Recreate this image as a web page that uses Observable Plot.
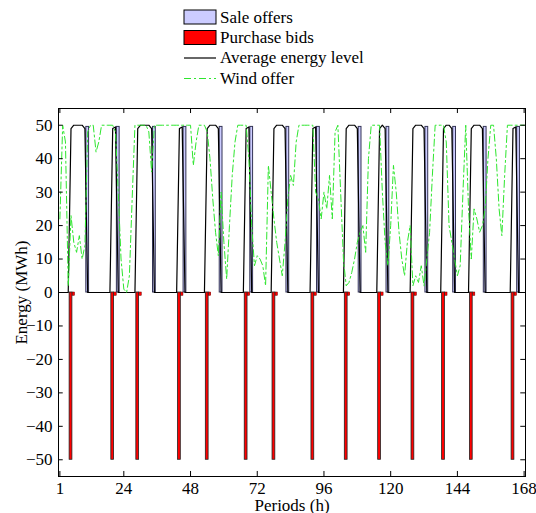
<!DOCTYPE html>
<html><head><meta charset="utf-8">
<script src="https://cdn.jsdelivr.net/npm/d3@7"></script>
<script src="https://cdn.jsdelivr.net/npm/@observablehq/plot@0.6"></script>
<style>
body{margin:0;background:#fff;font-family:'Liberation Serif','Times New Roman',serif;}
#legend{display:block;}
svg text{font-family:'Liberation Serif','Times New Roman',serif !important;}
</style></head><body>
<svg id="legend" width="536" height="95"></svg>
<div id="chart"></div>
<script>
// ---- data ----
const periods = d3.range(1, 169);
const xTicks = [1, 24, 48, 72, 96, 120, 144, 168];
const yTicks = [-50, -40, -30, -20, -10, 0, 10, 20, 30, 40, 50];

const purchaseHours = [5, 20, 29, 44, 54, 68, 78, 92, 104, 116, 128, 139, 149, 164];
const purchaseValues = [-50, -50, -50, -50, -50, -50, -50, -50, -50, -50, -50, -50, -50, -50];
const purchaseMinorHours = [6, 21, 30, 45, 55, 69, 79, 93, 105, 117, 129, 140, 150, 165];
const purchaseMinorValues = [-1, -1, -1, -1, -1, -1, -1, -1, -1, -1, -1, -1, -1, -1];

const saleHours = [11, 22, 35, 46, 59, 70, 83, 94, 109, 119, 133, 143, 154, 166];
const saleValues = [49.5, 49.5, 49.5, 49.5, 49.5, 49.5, 49.5, 49.5, 49.5, 49.5, 49.5, 49.5, 49.5, 49.5];

const energy = [
  0,0,0,0,                 // 1-4
  49,50,50,50,50,49,0,     // 5-11
  0,0,0,0,0,0,0,0,         // 12-19
  49,49.5,0,               // 20-22
  0,0,0,0,0,0,             // 23-28
  49,50,50,50,50,49,0,     // 29-35
  0,0,0,0,0,0,0,0,         // 36-43
  49,49.5,0,               // 44-46
  0,0,0,0,0,0,0,           // 47-53
  49,50,50,50,49,0,        // 54-59
  0,0,0,0,0,0,0,0,         // 60-67
  49,49.5,0,               // 68-70
  0,0,0,0,0,0,0,           // 71-77
  49,50,50,50,49,0,        // 78-83
  0,0,0,0,0,0,0,0,         // 84-91
  49,49.5,0,               // 92-94
  0,0,0,0,0,0,0,0,0,       // 95-103
  49,50,50,50,49,0,        // 104-109
  0,0,0,0,0,0,             // 110-115
  49,50,49,0,              // 116-119
  0,0,0,0,0,0,0,0,         // 120-127
  49,50,50,50,49,0,        // 128-133
  0,0,0,0,0,               // 134-138
  49,50,50,49,0,           // 139-143
  0,0,0,0,0,               // 144-148
  49,50,50,50,49,0,        // 149-154
  0,0,0,0,0,0,0,0,0,       // 155-163
  49,49.5,0,               // 164-166
  0,0                      // 167-168
];

const wind = [
  22,50,45,2,23,15,12,17,10,14,48,50,
  50,42,45,50,50,50,50,50,48,30,10,1,
  0,5,28,50,50,50,50,50,48,36,50,50,
  50,50,50,50,50,50,50,50,50,50,50,50,
  38,45,50,50,50,48,40,28,18,11,30,15,
  4,20,35,45,50,50,50,50,40,20,8,11,
  10,8,2,38,30,22,15,10,5,15,28,35,
  32,45,50,50,50,50,50,50,30,28,22,30,
  25,35,22,48,50,30,10,2,3,6,10,15,
  18,20,12,40,50,50,50,50,30,15,8,20,
  38,30,18,10,5,15,20,2,5,3,8,2,
  10,18,35,50,50,50,50,45,20,15,10,5,
  8,30,50,25,10,25,22,18,20,25,40,50,
  50,40,25,17,35,50,50,50,50,50,50,50
];

const legendItems = ["Sale offers", "Purchase bids", "Average energy level", "Wind offer"];

// ---- styles ----
const serif = "'Liberation Serif', 'Times New Roman', serif";
const saleFill = "#ccccff";
const purchaseFill = "#ff0000";
const windColor = "#2ee62e";
const windDash = "7,3,2,3";

// ---- legend ----
const lg = d3.select("#legend");
const lx = 184, lw = 32;
lg.append("rect").attr("x", lx).attr("y", 10).attr("width", lw).attr("height", 14)
  .attr("fill", saleFill).attr("stroke", "black").attr("stroke-width", 1);
lg.append("rect").attr("x", lx).attr("y", 30.5).attr("width", lw).attr("height", 14)
  .attr("fill", purchaseFill).attr("stroke", "black").attr("stroke-width", 1);
lg.append("line").attr("x1", lx).attr("x2", lx + lw).attr("y1", 58).attr("y2", 58)
  .attr("stroke", "black").attr("stroke-width", 1.2);
lg.append("line").attr("x1", lx).attr("x2", lx + lw).attr("y1", 78.5).attr("y2", 78.5)
  .attr("stroke", windColor).attr("stroke-width", 1).attr("stroke-dasharray", windDash);
const baselines = [22.5, 43, 63, 83.5];
legendItems.forEach((t, i) => {
  lg.append("text").attr("x", 220).attr("y", baselines[i])
    .style("font-family", serif)
    .attr("font-size", 17).attr("fill", "black").text(t);
});

// ---- chart ----
const series = periods.map((p, i) => ({p, e: energy[i], w: wind[i]}));
const sales = saleHours.map((h, i) => ({h, v: saleValues[i]}));
const purchases = purchaseHours.map((h, i) => ({h, v: purchaseValues[i]}));
const minor = purchaseMinorHours.map((h, i) => ({h, v: purchaseMinorValues[i]}));

const chart = Plot.plot({
  width: 536,
  height: 418,
  marginLeft: 58,
  marginRight: 11,
  marginTop: 13,
  marginBottom: 37,
  style: {fontFamily: serif, fontSize: "17px", color: "black", background: "white"},
  x: {domain: [0.5, 168.5]},
  y: {domain: [-55, 55]},
  marks: [
    Plot.rect(minor, {x1: d => d.h - 0.45, x2: d => d.h + 0.45, y1: 0, y2: d => d.v, fill: purchaseFill, stroke: "#600", strokeWidth: 0.5}),
    Plot.rect(purchases, {x1: d => d.h - 0.5, x2: d => d.h + 0.5, y1: 0, y2: d => d.v, fill: purchaseFill, stroke: "#222", strokeWidth: 0.8}),
    Plot.rect(sales, {x1: d => d.h - 0.5, x2: d => d.h + 0.5, y1: 0, y2: d => d.v, fill: saleFill, stroke: "#333355", strokeWidth: 1}),
    Plot.line(series, {x: "p", y: "e", stroke: "black", strokeWidth: 1.2}),
    Plot.line(series, {x: "p", y: "w", stroke: windColor, strokeWidth: 1, strokeDasharray: windDash}),
    Plot.ruleX(xTicks, {x: d => d, y1: -55, y2: -53.5, stroke: "black"}),
    Plot.ruleX(xTicks, {x: d => d, y1: 55, y2: 53.5, stroke: "black"}),
    Plot.ruleY(yTicks, {y: d => d, x1: 0.5, x2: 2.2, stroke: "black"}),
    Plot.ruleY(yTicks, {y: d => d, x1: 168.5, x2: 166.8, stroke: "black"}),
    Plot.frame({stroke: "black", strokeWidth: 1}),
    Plot.axisX(xTicks, {anchor: "bottom", tickSize: 0, tickPadding: 5, label: "Periods (h)", labelAnchor: "center", labelArrow: "none", labelOffset: 34, fontSize: 17}),
    Plot.axisY(yTicks, {anchor: "left", tickSize: 0, tickPadding: 6, tickFormat: d => d < 0 ? "\u2212" + Math.abs(d) : String(d), label: "Energy (MWh)", labelAnchor: "center", labelArrow: "none", labelOffset: 44, fontSize: 17})
  ]
});
document.getElementById("chart").appendChild(chart);
</script>
</body></html>
